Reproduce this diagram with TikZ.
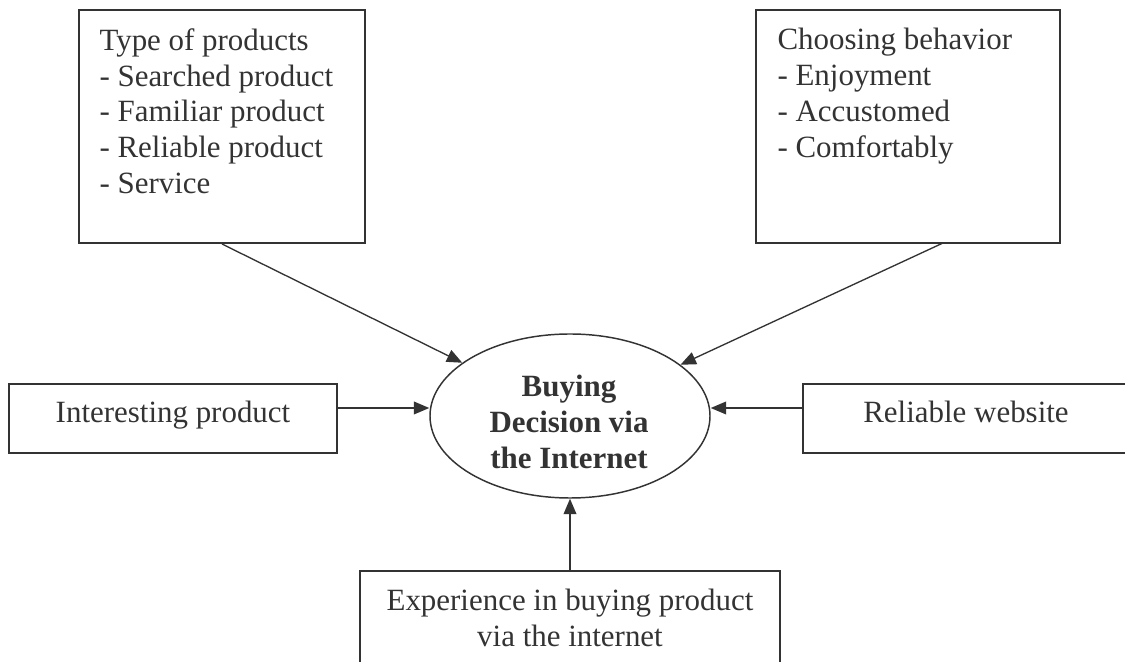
\documentclass[tikz,border=0pt]{standalone}
\usepackage{fontspec}
\setmainfont{Liberation Serif}
\usetikzlibrary{shapes.geometric,arrows.meta,fit}
\definecolor{ink}{RGB}{51,51,51}
\begin{document}
\begin{tikzpicture}[x=0.375pt,y=-0.375pt,
  every node/.style={text=ink},
  txt/.style={inner sep=0pt,font=\fontsize{11.6pt}{13.4pt}\selectfont},
  listtxt/.style={txt,align=left},
  boxnode/.style={draw=ink,line width=0.75pt,inner sep=0pt},
  hub/.style={ellipse,draw=ink,line width=0.55pt,inner sep=0pt,
    minimum width=105pt,minimum height=61.5pt},
  arr/.style={draw=ink,line width=0.5pt,-{Triangle[length=5.8pt,width=4.8pt]}}]
\useasboundingbox (0,0) rectangle (1125,662);
\clip (0,0) rectangle (1125,662);

% factor boxes
\node[boxnode,fit={(79,10)(365,243)}] (types) {};
\node[boxnode,fit={(756,10)(1060,243)}] (behav) {};
\node[boxnode,fit={(9,384)(337,453)}] (interest) {};
\node[boxnode,fit={(803,384)(1140,453)}] (website) {};
\node[boxnode,fit={(360,571)(780,700)}] (exper) {};

% central decision
\node[hub] (decision) at (570,416) {};

% texts
\node[listtxt,anchor=north west] (types-t) at (99,28)
  {Type of products\\- Searched product\\- Familiar product\\- Reliable product\\- Service};
\node[listtxt,anchor=north west] (behav-t) at (777,28)
  {Choosing behavior\\- Enjoyment\\- Accustomed\\- Comfortably};
\node[txt,anchor=base] (interest-t) at (173,423) {Interesting product};
\node[txt,anchor=base] (website-t) at (966,423) {Reliable website};
\node[txt,align=center,anchor=north] (exper-t) at (570,589)
  {Experience in buying product\\via the internet};
\node[txt,align=center,anchor=north,font=\fontsize{11.6pt}{13.5pt}\selectfont\bfseries]
  (decision-t) at (569,375) {Buying\\Decision via\\the Internet};

% connectors
\coordinate (behav-out) at (943,243);
\coordinate (interest-out) at (337,408);
\coordinate (website-out) at (803,408);
\draw[arr] (types.south) -- (decision);
\draw[arr] (behav-out) -- (decision);
\draw[arr] (interest-out) -- (interest-out -| decision.west);
\draw[arr] (website-out) -- (website-out -| decision.east);
\draw[arr] (exper.north -| decision.south) -- (decision.south);
\end{tikzpicture}
\end{document}
